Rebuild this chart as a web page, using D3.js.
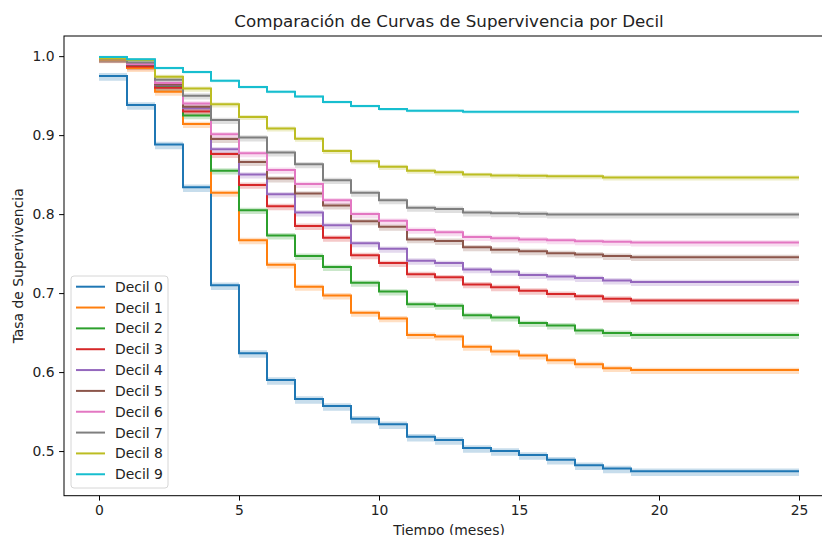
<!DOCTYPE html>
<html>
<head>
<meta charset="utf-8">
<script src="https://cdn.jsdelivr.net/npm/d3@7"></script>
<style>
  html, body { margin: 0; padding: 0; background: #fff; overflow: hidden; }
  svg { display: block; font-family: "DejaVu Sans", sans-serif; }
</style>
</head>
<body>
<svg id="chart" width="822" height="535"></svg>
<script>
// ---- Data ----
const stepTimes = [0,1,2,3,4,5,6,7,8,9,10,11,12,13,14,15,16,17,18,19];
const endTime = 25;
const deciles = ["Decil 0","Decil 1","Decil 2","Decil 3","Decil 4","Decil 5","Decil 6","Decil 7","Decil 8","Decil 9"];
const colors = ["#1f77b4","#ff7f0e","#2ca02c","#d62728","#9467bd","#8c564b","#e377c2","#7f7f7f","#bcbd22","#17becf"];

const decil0 = [0.975,0.938,0.888,0.834,0.710,0.624,0.590,0.566,0.557,0.541,0.534,0.518,0.514,0.504,0.500,0.495,0.489,0.482,0.478,0.4745];
const decil1 = [0.996,0.985,0.955,0.914,0.827,0.767,0.736,0.708,0.697,0.675,0.668,0.647,0.645,0.632,0.626,0.621,0.615,0.610,0.605,0.6025];
const decil2 = [0.997,0.988,0.961,0.925,0.855,0.805,0.773,0.747,0.733,0.713,0.702,0.686,0.684,0.672,0.669,0.662,0.659,0.6525,0.6495,0.647];
const decil3 = [0.997,0.987,0.960,0.930,0.876,0.837,0.810,0.785,0.770,0.748,0.738,0.724,0.720,0.711,0.7075,0.703,0.699,0.696,0.693,0.6905];
const decil4 = [0.997,0.989,0.963,0.934,0.882,0.850,0.825,0.802,0.786,0.763,0.756,0.741,0.738,0.730,0.727,0.723,0.721,0.719,0.716,0.714];
const decil5 = [0.997,0.989,0.964,0.936,0.895,0.866,0.845,0.826,0.811,0.791,0.784,0.768,0.766,0.758,0.755,0.753,0.7505,0.749,0.747,0.7455];
const decil6 = [0.997,0.990,0.966,0.940,0.901,0.877,0.856,0.838,0.8175,0.800,0.7915,0.780,0.777,0.771,0.7695,0.768,0.7668,0.7655,0.765,0.764];
const decil7 = [0.997,0.992,0.970,0.950,0.919,0.897,0.878,0.863,0.843,0.827,0.8175,0.808,0.8065,0.802,0.801,0.8005,0.7995,0.7995,0.7995,0.7995];
const decil8 = [0.997,0.995,0.974,0.959,0.939,0.923,0.9085,0.8955,0.880,0.867,0.860,0.855,0.853,0.850,0.849,0.8485,0.848,0.848,0.8465,0.8465];
const decil9 = [0.999,0.996,0.985,0.980,0.969,0.961,0.955,0.949,0.942,0.937,0.933,0.931,0.931,0.9295,0.9295,0.9295,0.9295,0.9295,0.9295,0.9295];
const seriesValues = [decil0,decil1,decil2,decil3,decil4,decil5,decil6,decil7,decil8,decil9];

// confidence band extents (above / below the curve)
const ciUpper = [0.0035,0.003,0.003,0.003,0.003,0.003,0.003,0.003,0.0025,0.0015];
const ciLower = [0.006,0.005,0.005,0.005,0.005,0.005,0.005,0.005,0.004,0.002];

const xTicks = [0,5,10,15,20,25];
const yTicks = [0.5,0.6,0.7,0.8,0.9,1.0];

// ---- Layout ----
const svg = d3.select("#chart");
const plot = { left: 64, right: 834, top: 36, bottom: 495.7 };
const x = d3.scaleLinear().domain([-1.25, 26.25]).range([plot.left, plot.right]);
const y = d3.scaleLinear().domain([0.4435, 1.0255]).range([plot.bottom, plot.top]);

const clip = svg.append("defs").append("clipPath").attr("id","clip")
  .append("rect").attr("x",plot.left).attr("y",plot.top)
  .attr("width",plot.right-plot.left).attr("height",plot.bottom-plot.top);

const g = svg.append("g").attr("clip-path","url(#clip)");

function pts(vals) {
  const p = stepTimes.map((t,i)=>({t, v: vals[i], i}));
  p.push({t: endTime, v: vals[vals.length-1], i: vals.length-1});
  return p;
}

seriesValues.forEach((vals, k) => {
  const p = pts(vals);
  const area = d3.area()
    .x(d => x(d.t))
    .y0(d => y(d.v - ciLower[k]))
    .y1(d => y(d.v + ciUpper[k]))
    .curve(d3.curveStepAfter);
  g.append("path").datum(p).attr("d", area)
    .attr("fill", colors[k]).attr("fill-opacity", 0.25).attr("stroke","none");
});

seriesValues.forEach((vals, k) => {
  const p = pts(vals);
  const line = d3.line().x(d => x(d.t)).y(d => y(d.v)).curve(d3.curveStepAfter);
  g.append("path").datum(p).attr("d", line)
    .attr("fill","none").attr("stroke", colors[k]).attr("stroke-width", 2);
});

// ---- Axes ----
const xAxis = d3.axisBottom(x).tickValues(xTicks).tickFormat(d3.format("d")).tickSize(4.9).tickPadding(4.5);
const yAxis = d3.axisLeft(y).tickValues(yTicks).tickFormat(d3.format(".1f")).tickSize(4.9).tickPadding(4.5);

const gx = svg.append("g").attr("transform",`translate(0,${plot.bottom})`).call(xAxis);
const gy = svg.append("g").attr("transform",`translate(${plot.left},0)`).call(yAxis);
[gx, gy].forEach(a => {
  a.select(".domain").remove();
  a.selectAll(".tick line").attr("stroke","#000").attr("stroke-width",1);
  a.selectAll(".tick text").attr("fill","#222").style("font-size","13.9px").style("font-family","DejaVu Sans, sans-serif");
});

// spines
svg.append("rect").attr("x",plot.left).attr("y",plot.top)
  .attr("width",plot.right-plot.left).attr("height",plot.bottom-plot.top)
  .attr("fill","none").attr("stroke","#000").attr("stroke-width",1);

// ---- Titles ----
svg.append("text").attr("x",(plot.left+plot.right)/2).attr("y",27)
  .attr("text-anchor","middle").style("font-size","16.7px").attr("fill","#222")
  .text("Comparación de Curvas de Supervivencia por Decil");

svg.append("text").attr("x",(plot.left+plot.right)/2).attr("y",535)
  .attr("text-anchor","middle").style("font-size","13.9px").attr("fill","#222")
  .text("Tiempo (meses)");

svg.append("text")
  .attr("transform",`translate(23,${(plot.top+plot.bottom)/2}) rotate(-90)`)
  .attr("text-anchor","middle").style("font-size","13.9px").attr("fill","#222")
  .text("Tasa de Supervivencia");

// ---- Legend ----
const leg = svg.append("g");
leg.append("rect").attr("x",71).attr("y",276).attr("width",97).attr("height",212)
  .attr("rx",3).attr("fill","#fff").attr("fill-opacity",0.8)
  .attr("stroke","#d6d6d6").attr("stroke-width",1);
deciles.forEach((name, k) => {
  const cy = 286.7 + k*20.84;
  leg.append("line").attr("x1",76).attr("x2",105).attr("y1",cy).attr("y2",cy)
    .attr("stroke",colors[k]).attr("stroke-width",2);
  leg.append("text").attr("x",115).attr("y",cy).attr("dy","0.36em")
    .style("font-size","13.9px").attr("fill","#222").text(name);
});
</script>
</body>
</html>
